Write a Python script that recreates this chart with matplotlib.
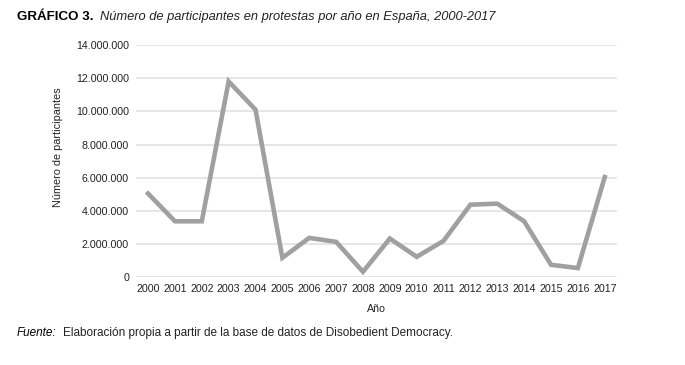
import matplotlib
matplotlib.use("Agg")
import matplotlib.pyplot as plt
from matplotlib.ticker import FuncFormatter

# Datos: participantes en protestas por año (España)
years = [2000, 2001, 2002, 2003, 2004, 2005, 2006, 2007, 2008,
         2009, 2010, 2011, 2012, 2013, 2014, 2015, 2016, 2017]
participants = [5050000, 3380000, 3380000, 11800000, 10100000, 1180000,
                2380000, 2140000, 340000, 2340000, 1240000, 2200000,
                4380000, 4440000, 3380000, 760000, 560000, 6040000]
y_ticks = [0, 2000000, 4000000, 6000000, 8000000, 10000000, 12000000, 14000000]

plt.rcParams['font.family'] = ['Liberation Sans', 'DejaVu Sans']

fig = plt.figure(figsize=(6.85, 3.65), dpi=100)
ax = fig.add_axes([0.1985, 0.240, 0.702, 0.637])

x = list(range(len(years)))
ax.plot(x, participants, color='#a0a0a0', linewidth=3.3, solid_joinstyle='miter', zorder=3)

ax.set_xlim(-0.45, len(years) - 0.55)
ax.set_ylim(0, 14000000)
ax.set_yticks(y_ticks)
ax.yaxis.set_major_formatter(FuncFormatter(lambda v, p: f'{int(v):,}'.replace(',', '.')))
ax.set_xticks(x)
ax.set_xticklabels([str(y) for y in years])
ax.tick_params(axis='both', length=0, labelsize=7.7, colors='#222222')
ax.tick_params(axis='y', pad=5)
ax.tick_params(axis='x', pad=5)

ax.grid(True, axis='y', color='#e2e2e2', linewidth=1.2, zorder=0)
for s in ax.spines.values():
    s.set_visible(False)

ax.set_xlabel('Año', fontsize=7.7, color='#222222', labelpad=7)
fig.text(0.0847, 0.597, 'Número de participantes', rotation=90, fontsize=7.8,
         color='#222222', ha='center', va='center')

# Título
fig.text(0.025, 0.953, 'GRÁFICO 3.', fontsize=9.6, fontweight='bold', ha='left', va='center')
fig.text(0.146, 0.953, 'Número de participantes en protestas por año en España, 2000-2017',
         fontsize=9.3, style='italic', ha='left', va='center', color='#222222')

# Fuente
fig.text(0.025, 0.088, 'Fuente:', fontsize=8.5, style='italic', ha='left', va='center')
fig.text(0.092, 0.088, 'Elaboración propia a partir de la base de datos de Disobedient Democracy.',
         fontsize=8.5, ha='left', va='center', color='#222222')

fig.savefig('out.png', dpi=100, facecolor='white')
